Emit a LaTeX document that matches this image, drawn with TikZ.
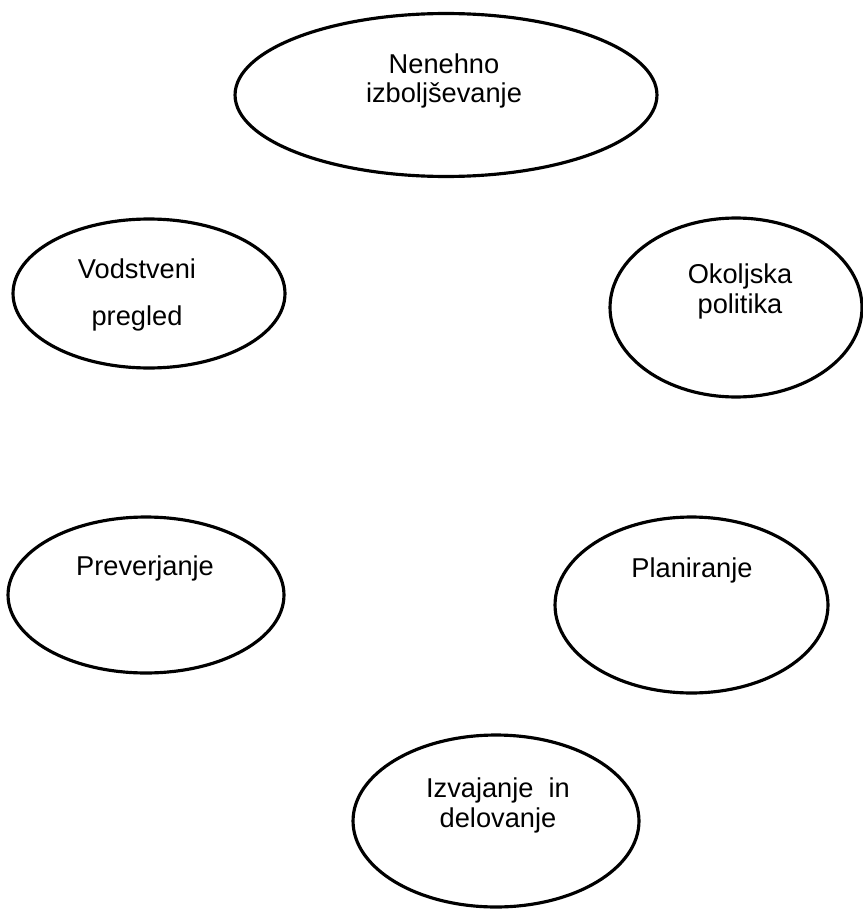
\documentclass[tikz,border=0pt]{standalone}
\usepackage{fontspec}
\setmainfont{Liberation Sans}
\usetikzlibrary{shapes.geometric}

\begin{document}
\begin{tikzpicture}[x=0.02cm,y=-0.02cm,
  oval/.style={ellipse, draw, line width=1.8pt, inner sep=0pt},
  word/.style={font=\fontsize{15.5}{17}\selectfont, align=center, anchor=base, inner sep=0pt}]
\useasboundingbox (0,0) rectangle (862,909);

\node[oval, minimum width=8.44cm, minimum height=3.26cm] (improve) at (446,95) {};
\node[oval, minimum width=5.44cm, minimum height=2.98cm] (review) at (149,293.5) {};
\node[oval, minimum width=5.04cm, minimum height=3.58cm] (policy) at (736,307.5) {};
\node[oval, minimum width=5.52cm, minimum height=3.12cm] (check) at (146,595) {};
\node[oval, minimum width=5.46cm, minimum height=3.52cm] (plan) at (691.5,605) {};
\node[oval, minimum width=5.72cm, minimum height=3.44cm] (do) at (496,821) {};

% base anchor sits on the last line
\node[word] (improvetext) at (444,103) {Nenehno\\izboljševanje};
\node[word] (reviewtext) at (137,325) {Vodstveni\\[9.6pt]pregled};
\node[word] (policytext) at (740,313) {Okoljska\\politika};
\node[word] (checktext) at (145,575) {Preverjanje};
\node[word] (plantext) at (692,577) {Planiranje};
\node[word] (dotext) at (498,827) {Izvajanje\ \ in\\delovanje};
\end{tikzpicture}
\end{document}
